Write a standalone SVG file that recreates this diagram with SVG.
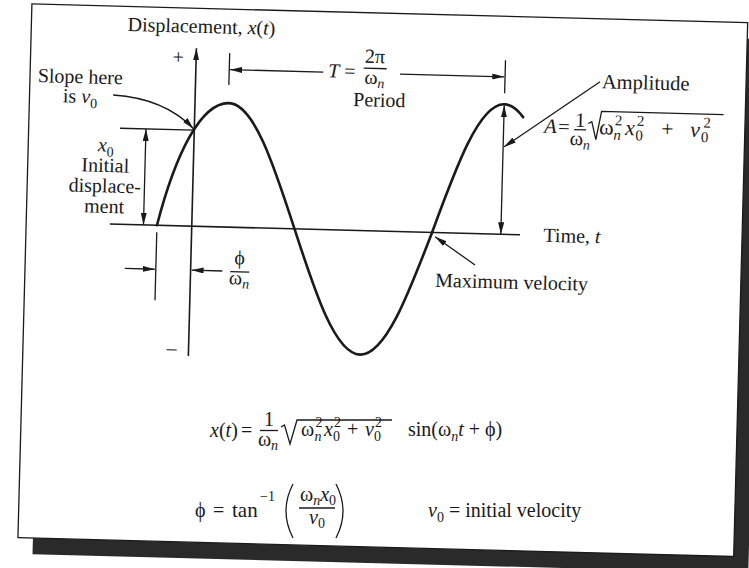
<svg xmlns="http://www.w3.org/2000/svg" width="749" height="568" viewBox="0 0 749 568">
<style>
.t{font-family:"Liberation Serif","Times New Roman",serif;font-size:20px;fill:#1a1a1a}
.a{font-family:"Liberation Serif","Times New Roman",serif;font-size:20.5px;fill:#1a1a1a}
.i{font-style:italic}
.s{font-size:14px}
.m{text-anchor:middle}
.ln{stroke:#1a1a1a;stroke-width:1.3;fill:none}
.ax{stroke:#1a1a1a;stroke-width:1.6;fill:none}
.cv{stroke:#1a1a1a;stroke-width:2.6;fill:none;stroke-linecap:round}
</style>
<defs>
<marker id="ah" viewBox="0 0 12 6" refX="12" refY="3" markerWidth="12" markerHeight="6" markerUnits="userSpaceOnUse" orient="auto-start-reverse"><path d="M0,0 L12,3 L0,6 Z" fill="#1a1a1a"/></marker>
</defs>
<rect width="749" height="568" fill="#ffffff"/>
<g transform="rotate(1.5 375 284)">
<g id="frame">
<rect x="39.7" y="29" width="716" height="534" fill="#2a2a2a"/>
<rect x="24.7" y="13" width="716" height="534" fill="#ffffff" stroke="#1a1a1a" stroke-width="1.3"/>
</g>
<g id="axes">
<path class="ax" d="M190.3,361 L190.3,53" marker-end="url(#ah)"/>
<path class="ax" d="M108.4,231 L518.7,231"/>
<text class="t" x="121" y="37.5">Displacement, <tspan class="i">x</tspan>(<tspan class="i">t</tspan>)</text>
<text class="t m" x="172.4" y="69">+</text>
<text class="t m" x="173.4" y="360">–</text>
<text class="t" x="542.2" y="237.3">Time, <tspan class="i">t</tspan></text>
</g>
<g id="curve">
<path class="cv" d="M155.5,231 C172,160 196,107 224.3,107 C249.2,107 270.66,167.47 293.1,231 C315.54,294.53 337,355 361.9,355 C386.8,355 408.26,294.53 430.7,231 C453.14,164.4 474.6,101 499.5,101 C505.9,101 512.3,105.1 518.7,113.3"/>
</g>
<g id="slope-label">
<text class="t m" x="75" y="91">Slope here</text>
<text class="t m" x="75.3" y="110.6">is <tspan class="i">v</tspan><tspan class="s" dy="5">0</tspan></text>
</g>
<g id="x0-label">
<text class="t m" x="102.3" y="158.5"><tspan class="i">x</tspan><tspan class="s" dy="5">0</tspan></text>
<text class="t m" x="102.3" y="179">Initial</text>
<text class="t m" x="102.3" y="199.5">displace-</text>
<text class="t m" x="102.3" y="220">ment</text>
</g>
<g id="phase-label">
<text class="t m" x="239" y="268">ϕ</text>
<path class="ln" d="M230,275.5 L249,275.5"/>
<text class="t m" x="239" y="288">ω<tspan class="s i" dy="4">n</tspan></text>
</g>
<g id="period-label">
<text class="t" x="322.6" y="78.5"><tspan class="i">T</tspan> =</text>
<text class="t m" x="369" y="63">2π</text>
<path class="ln" d="M358,68.5 L381,68.5"/>
<text class="t m" x="369" y="84">ω<tspan class="s i" dy="4">n</tspan></text>
<text class="t m" x="374.5" y="106.6">Period</text>
</g>
<g id="amplitude-label">
<text class="a" x="596.6" y="82.4">Amplitude</text>
<text class="a i" x="540" y="128.5">A</text>
<text class="a" x="554" y="128.5">=</text>
<text class="a m" x="576" y="121.5">1</text>
<path class="ln" d="M570,124.5 L582,124.5"/>
<text class="a m" x="576" y="140">ω<tspan class="s i" dy="4">n</tspan></text>
<path class="ln" d="M584,118 L587.5,116 L592,134 L597,105.5 L719,105.5"/>
<text class="a" style="font-size:22px"><tspan x="595" y="128.5">ω</tspan><tspan class="i" x="609.5" y="133.5" style="font-size:15px">n</tspan><tspan x="610.5" y="119" style="font-size:15px">2</tspan><tspan class="i" x="621" y="128.5">x</tspan><tspan x="631.5" y="133.5" style="font-size:15px">0</tspan><tspan x="632.5" y="119" style="font-size:15px">2</tspan><tspan x="657" y="128.5">+</tspan><tspan class="i" x="686" y="128.5">v</tspan><tspan x="697" y="133.5" style="font-size:15px">0</tspan><tspan x="699" y="119" style="font-size:15px">2</tspan></text>
</g>
<g id="maxvel-label">
<text class="t" x="435.1" y="285.1">Maximum velocity</text>
</g>
<g id="connectors">
<path class="ln" d="M108.3,101.9 Q160,104 189.5,133.5" marker-end="url(#ah)"/>
<path class="ln" d="M116,135 L190,135"/>
<path class="ln" d="M142,135 L142,231" marker-start="url(#ah)" marker-end="url(#ah)"/>
<path class="ln" d="M155.5,238 L155.5,306"/>
<path class="ln" d="M124.5,275 L154.5,275" marker-end="url(#ah)"/>
<path class="ln" d="M222,275 L191.3,275" marker-end="url(#ah)"/>
<path class="ln" d="M223.7,57 L223.7,89"/>
<path class="ln" d="M499.6,57 L499.6,90"/>
<path class="ln" d="M317.7,73.5 L224.5,73.5" marker-end="url(#ah)"/>
<path class="ln" d="M394.5,73.5 L498.8,73.5" marker-end="url(#ah)"/>
<path class="ln" d="M594.7,76 L500.5,143.5" marker-end="url(#ah)"/>
<path class="ln" d="M499.5,102 L499.5,231" marker-start="url(#ah)" marker-end="url(#ah)"/>
<path class="ln" d="M474.5,262.4 L433.8,235.1" marker-end="url(#ah)"/>
</g>
</g>
<g id="equations">
<text class="t" x="210" y="437"><tspan class="i">x</tspan>(<tspan class="i">t</tspan>)</text>
<text class="t" x="241" y="437">=</text>
<text class="t m" x="269" y="426">1</text>
<path class="ln" d="M260,430.5 L278,430.5"/>
<text class="t m" x="268" y="446">ω<tspan class="s i" dy="4">n</tspan></text>
<path class="ln" d="M281,427 L284.5,425 L290,444 L297,420 L392,420"/>
<text class="t"><tspan x="301" y="436">ω</tspan><tspan class="s i" x="314.5" y="441">n</tspan><tspan class="s" x="315.5" y="427">2</tspan><tspan class="i" x="324" y="436">x</tspan><tspan class="s" x="333" y="441">0</tspan><tspan class="s" x="334" y="427">2</tspan><tspan x="347" y="436">+</tspan><tspan class="i" x="365" y="436">v</tspan><tspan class="s" x="374" y="441">0</tspan><tspan class="s" x="375" y="427">2</tspan></text>
<text class="t" x="408" y="436">sin(ω<tspan class="s i" dy="5">n</tspan><tspan class="i" dy="-5">t</tspan> + ϕ)</text>
<text class="t" x="195" y="517">ϕ</text>
<text class="t" x="213" y="517">=</text>
<text class="t" x="232" y="517" style="font-size:21px">tan</text>
<text class="t s" x="260" y="501">−1</text>
<path class="ln" d="M293,484 Q279,511 293,538"/>
<text class="t"><tspan x="300" y="501">ω</tspan><tspan class="s i" y="505">n</tspan><tspan class="i" y="501">x</tspan><tspan class="s" y="505">0</tspan></text>
<path class="ln" d="M299,508 L335,508"/>
<text class="t m" x="317" y="524"><tspan class="i">v</tspan><tspan class="s" dy="4">0</tspan></text>
<path class="ln" d="M336,484 Q350,511 336,538"/>
<text class="t" x="428" y="517"><tspan class="i">v</tspan><tspan class="s" dy="5">0</tspan><tspan dy="-5"> = initial velocity</tspan></text>
</g>
</svg>
